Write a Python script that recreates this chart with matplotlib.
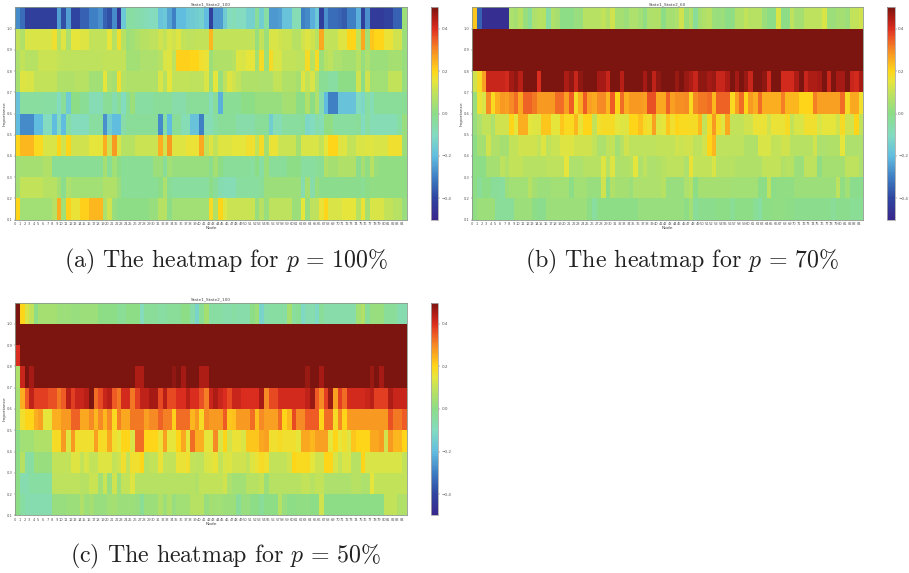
import numpy
import matplotlib
matplotlib.use('Agg')
import matplotlib.pyplot as plt
from matplotlib.colors import LinearSegmentedColormap

FIG_W, FIG_H = 909, 573

# Values, one list per row, top row first
a_row0 = [-.28,-.33,-.42,-.42,-.42,-.42,-.42,-.42,-.42,-.25,
          -.38,-.25,-.4,-.4,-.35,-.35,-.3,-.3,-.27,-.35,
          -.38,-.28,-.45,-.17,-.05,-.05,-.06,-.07,-.08,-.1,
          -.09,-.18,-.17,-.24,-.3,-.2,-.2,-.17,-.16,-.15,
          -.14,-.2,-.42,-.26,-.26,-.16,-.09,-.08,-.1,-.1,
          -.14,-.14,-.03,-.15,-.05,-.26,-.26,-.25,-.18,-.18,
          -.08,-.08,-.3,-.28,-.22,-.17,-.42,-.27,-.33,-.33,
          -.34,-.36,-.3,-.3,-.22,-.42,-.27,-.43,-.43,-.43,
          -.41,-.41,-.35,-.35,.03]
a_row1 = [.1,.07,.13,.13,.13,.13,.13,.13,.17,.08,
          .14,.06,.15,.15,.14,.14,.1,.1,.1,.1,
          .15,.08,.17,.08,.03,.04,.06,.08,.08,.09,
          .09,.12,.1,.13,.12,.14,.1,.09,.09,.1,
          .1,.1,.24,.1,.1,.1,.1,.1,.1,.1,
          .1,.1,.02,.1,.03,.13,.13,.12,.11,.11,
          .08,.08,.12,.14,.12,.08,.26,.1,.1,.1,
          .14,.14,.2,.2,.1,.26,.05,.22,.2,.2,
          .16,.16,.12,.12,.03]
a_row2 = [.06,.1,.08,.08,.08,.11,.11,.11,.11,.1,
          .09,.09,.09,.09,.09,.09,.09,.09,.09,.1,
          .1,.1,.1,.1,.04,.04,.04,.06,.06,.06,
          .06,.08,.13,.14,.09,.21,.21,.21,.2,.2,
          .17,.16,.03,.07,.07,.07,.07,.08,.14,.13,
          .15,.15,.05,.18,.03,.18,.13,.13,.1,.1,
          .1,.09,.09,.18,.08,.18,.03,.08,.09,.06,
          .06,.05,.05,.05,.08,.02,.06,.03,.03,.03,
          .03,.05,.05,.05,.02]
a_row3 = [.05,.14,.13,.13,.1,.1,.1,.1,.1,.07,
          .07,.07,.07,.08,.08,.08,.04,.04,.04,.15,
          .06,.05,.17,.08,.07,.07,.07,.07,.07,.07,
          .07,.13,.08,.15,.1,.1,.1,.1,.09,.09,
          .09,.13,.03,.15,.02,.09,.14,.12,.1,.07,
          .07,.07,.07,.06,.06,.06,.1,.1,.07,.07,
          .07,.05,.14,.1,.13,.06,-.02,-.02,-.05,-.05,
          0,0,0,0,.12,0,.12,.04,.04,.04,
          .04,.1,.1,.1,.02]
a_row4 = [-.18,-.04,-.04,-.04,-.04,-.04,-.05,-.05,-.05,-.1,
          -.03,-.16,0,0,-.02,-.02,-.08,-.08,-.08,-.03,
          -.02,-.07,-.02,-.1,-.02,.03,-.05,-.05,-.05,-.05,
          -.03,-.03,-.03,-.03,-.06,-.06,-.06,-.03,-.03,-.03,
          -.03,-.03,-.09,-.03,-.22,-.02,-.02,-.02,-.02,0,
          0,0,.02,.02,.02,.02,.02,.02,.05,.05,
          .05,0,0,.07,0,.06,-.07,-.2,-.3,-.3,
          -.18,-.18,-.18,-.18,-.1,-.12,-.05,-.08,-.03,-.03,
          -.03,-.03,-.03,-.03,-.02]
a_row5 = [-.2,-.28,-.28,-.28,-.2,-.2,-.1,-.1,-.2,-.1,
          -.2,-.05,-.09,-.09,-.09,-.09,-.04,-.04,-.04,-.27,
          -.15,-.2,-.2,-.06,-.03,-.03,-.03,-.03,-.03,-.03,
          -.03,-.28,-.05,-.2,-.03,-.03,-.08,-.08,-.18,-.18,
          -.3,-.08,-.08,-.05,-.03,-.03,-.03,-.03,-.06,-.06,
          -.06,-.06,-.03,-.03,-.03,-.15,-.08,-.08,-.04,-.04,
          -.04,-.04,-.03,-.12,-.1,-.06,-.08,.01,.01,-.04,
          -.04,-.04,-.04,-.04,-.03,-.1,-.05,-.08,-.08,-.08,
          -.08,-.08,-.08,-.05,.02]
a_row6 = [.2,.24,.24,.24,.19,.19,.13,.13,.13,.2,
          .12,.2,.12,.12,.12,.12,.15,.15,.15,.25,
          .12,.28,.13,.08,.08,.08,.11,.11,.11,.11,
          .11,.25,.12,.28,.14,.14,.14,.16,.16,.16,
          .26,.1,.14,.1,.14,.14,.14,.15,.15,.15,
          .17,.17,.1,.18,.05,.16,.16,.11,.11,.11,
          .11,.05,.13,.13,.13,.13,.1,.15,.2,.2,
          .14,.14,.1,.1,.13,.13,.14,.14,.13,.13,
          .13,.17,.17,.17,.03]
a_row7 = [.04,.05,.05,.05,.05,.05,.07,.07,-.02,-.02,
          -.02,-.02,-.02,-.02,-.02,-.02,-.02,-.02,-.02,.05,
          -.02,.04,0,-.02,-.02,-.02,-.02,-.02,-.02,-.02,
          .03,.03,-.03,.04,.02,.02,.02,.02,.02,.02,
          .02,.02,-.01,.05,0,-.03,-.03,-.03,-.03,-.03,
          -.03,-.04,0,-.05,.03,-.03,-.03,-.03,-.03,0,
          0,0,-.04,-.04,-.04,-.03,-.02,.07,.05,.05,
          .07,.07,.07,.07,-.01,.05,.01,.08,.02,.01,
          .01,.01,.01,.01,.01]
a_row8 = [.05,.1,.1,.1,.1,.1,.08,.08,.08,.05,
          -.01,.06,.04,.04,.04,.04,.04,.04,.04,.07,
          .07,.07,.03,-.02,-.02,-.02,-.02,-.02,-.02,-.02,
          -.02,0,.06,-.02,-.04,-.04,-.04,-.04,-.04,-.04,
          -.04,-.04,0,-.03,-.07,-.08,-.08,-.08,-.04,-.04,
          -.04,-.04,-.04,-.03,.03,.03,.03,.03,.03,.03,
          .03,.03,-.07,.05,-.06,.02,-.01,-.01,-.01,-.01,
          -.01,-.01,-.01,-.01,-.01,-.02,0,.01,.01,.01,
          .01,.01,.01,.01,.01]
a_row9 = [.2,.04,.04,.04,.04,.04,.04,.04,.08,.25,
          .04,.21,.16,.16,.21,.21,.24,.24,.24,.06,
          .12,.02,0,0,0,0,0,0,0,.02,
          .02,.08,.08,0,.04,.04,.04,.04,.04,.04,
          .04,.04,.18,.07,.2,.14,.11,.11,.11,.11,
          .11,.11,.02,.08,.02,.09,.09,.09,.09,.09,
          .03,.03,.15,.02,.09,.09,.16,.2,.13,.13,
          .13,.15,.15,.15,.08,.16,.05,.13,.13,.13,
          .1,.1,.08,.08,.02]

# Rows that hit the top of the colour scale in panels b and c
saturated_row = [.5,.5,.5,.5,.5,.5,.5,.5,.5,.5,
                 .5,.5,.5,.5,.5,.5,.5,.5,.5,.5,
                 .5,.5,.5,.5,.5,.5,.5,.5,.5,.5,
                 .5,.5,.5,.5,.5,.5,.5,.5,.5,.5,
                 .5,.5,.5,.5,.5,.5,.5,.5,.5,.5,
                 .5,.5,.5,.5,.5,.5,.5,.5,.5,.5,
                 .5,.5,.5,.5,.5,.5,.5,.5,.5,.5,
                 .5,.5,.5,.5,.5,.5,.5,.5,.5,.5,
                 .5,.5,.5,.5,.5]

b_row0 = [.22,-.35,-.47,-.47,-.47,-.47,-.47,-.47,.06,.05,
          .08,.02,-.02,.06,.08,.08,-.05,.07,.05,0,
          0,0,.02,.02,.08,.08,.08,.08,.1,.07,
          .12,.05,.05,.03,.06,.06,.04,.01,.06,.07,
          .07,0,.05,.05,.06,.12,.03,.07,-.03,.05,
          .07,.08,.03,.02,.03,0,.01,.07,.07,.1,
          .08,.08,.08,.03,0,0,.13,0,0,.09,
          .05,.05,.09,.09,.09,.09,.13,.03,.03,.05,
          .05,.03,.1,.1,.12]
b_row3 = [.12,.18,.27,.42,.42,.42,.42,.41,.46,.48,
          .44,.5,.5,.5,.4,.5,.5,.5,.5,.5,
          .45,.48,.42,.48,.5,.5,.5,.46,.46,.42,
          .5,.5,.44,.5,.5,.5,.5,.46,.5,.43,
          .48,.5,.5,.5,.47,.5,.47,.45,.42,.48,
          .48,.46,.47,.42,.42,.45,.5,.46,.5,.47,
          .42,.5,.5,.48,.41,.5,.5,.41,.41,.41,
          .45,.5,.42,.45,.45,.46,.5,.42,.5,.46,
          .46,.5,.42,.41,.46]
b_row4 = [.02,.16,.13,.3,.19,.25,.28,.27,.3,.33,
          .26,.34,.34,.32,.28,.28,.28,.28,.33,.33,
          .27,.35,.18,.25,.35,.27,.26,.3,.3,.24,
          .35,.2,.33,.25,.28,.28,.28,.27,.36,.36,
          .26,.26,.34,.27,.29,.29,.3,.19,.3,.32,
          .32,.33,.24,.34,.34,.34,.19,.27,.33,.2,
          .28,.25,.33,.25,.25,.25,.25,.31,.24,.24,
          .24,.2,.2,.2,.31,.27,.27,.27,.27,.27,
          .33,.18,.26,.26,.17]
b_row5 = [.02,.06,.1,.1,.06,.12,.12,.12,.2,.15,
          .25,.25,.15,.14,.14,.22,.22,.15,.15,.22,
          .19,.19,.24,.16,.2,.2,.1,.17,.18,.18,
          .18,.15,.14,.14,.2,.2,.23,.18,.17,.27,
          .14,.15,.22,.17,.2,.19,.19,.18,.18,.24,
          .1,.18,.28,.18,.14,.26,.1,.1,.1,.12,
          .12,.16,.16,.16,.12,.16,.16,.16,.18,.1,
          .13,.13,.17,.17,.17,.13,.15,.15,.15,.12,
          .18,.12,.12,.2,.1]
b_row6 = [0,.05,.05,.12,.07,.07,.05,.05,.1,.1,
          .12,.12,.12,.12,.1,.14,.09,.11,.11,.14,
          .14,.14,.12,.12,.12,.12,.1,.06,.06,.09,
          .1,.04,.08,.12,.09,.09,.09,.09,.09,.09,
          .1,.1,.1,.1,.12,.11,.12,.12,.09,.09,
          .12,.2,.24,.09,.09,.09,.09,.09,.09,.07,
          .07,.07,.13,.13,.13,.1,.1,.12,.12,.08,
          .08,.08,.08,.08,.12,.06,.06,.07,.07,.07,
          .15,.06,.06,.06,.06]
b_row7 = [0,0,0,.05,.05,.05,.09,.07,.1,.1,
          .1,.08,.08,.08,.08,.08,.09,.09,.09,.09,
          .15,.06,.06,.06,.08,.08,.08,.08,.14,.08,
          .14,.06,.07,.07,.08,.15,.06,.09,.06,.06,
          .07,.08,.09,.09,.09,.09,.06,.16,.1,.1,
          .1,.1,.13,.08,.08,.08,.08,.07,.07,.07,
          .07,.07,.07,.1,.1,.1,.1,.07,.08,.08,
          .03,.03,.09,.09,.09,.01,.05,.05,.05,.05,
          .05,.09,.09,.09,.06]
b_row8 = [0,-.03,0,0,-.03,-.03,-.04,.03,.04,.04,
          .04,.04,.08,.05,.03,.03,.03,.04,.04,.04,
          .04,0,.04,.04,.04,.02,.02,.02,.12,0,
          .07,.05,.05,.05,.03,.06,.06,.06,.06,.06,
          .06,.08,.02,.02,.02,.02,.06,.08,0,.05,
          .05,.05,.05,.05,.05,.05,.04,.04,.04,.04,
          .04,.04,0,0,.09,0,.01,.01,.01,.01,
          .03,.03,.03,.03,.03,.03,.03,.03,.03,.09,
          .01,.04,-.01,-.01,-.01]
b_row9 = [.01,.03,.03,.03,.03,-.03,-.03,-.03,-.03,.03,
          .03,.03,.03,0,-.01,-.01,.03,.03,.03,.03,
          .03,.03,.03,.03,.03,0,-.04,0,0,0,
          0,0,0,0,0,0,.02,.02,.02,.02,
          .02,.02,.02,.02,.02,.02,0,.04,-.03,-.01,
          -.01,-.01,-.01,0,0,0,-.02,0,0,0,
          0,-.02,-.05,0,0,.01,.01,.01,0,0,
          -.01,-.01,-.01,-.01,-.01,-.01,-.01,-.01,-.03,-.01,
          -.01,-.01,-.02,-.02,-.02]

c_row0 = [.5,.2,.13,.1,0,.05,.05,.05,.05,.03,
          .03,.03,.02,.02,.03,.03,.03,.03,0,0,
          0,0,-.02,-.02,0,0,0,-.09,-.03,-.03,
          -.03,-.05,-.05,-.03,-.03,-.03,0,0,-.06,-.13,
          -.02,.05,-.05,-.05,-.05,-.06,-.06,-.05,-.06,-.06,
          -.06,0,.03,-.13,-.06,-.05,-.05,-.05,-.05,.05,
          -.04,-.02,-.11,-.07,-.07,-.11,-.03,-.06,-.06,-.06,
          -.06,-.06,-.06,-.06,.04,.07,-.03,.02,.02,.02,
          -.03,-.03,-.03,-.07,-.07]
c_row2 = [.4,.5,.5,.5,.5,.5,.5,.5,.5,.5,
          .5,.5,.5,.5,.5,.5,.5,.5,.5,.5,
          .5,.5,.5,.5,.5,.5,.5,.5,.5,.5,
          .5,.5,.5,.5,.5,.5,.5,.5,.5,.5,
          .5,.5,.5,.5,.5,.5,.5,.5,.5,.5,
          .5,.5,.5,.5,.5,.5,.5,.5,.5,.5,
          .5,.5,.5,.5,.5,.5,.5,.5,.5,.5,
          .5,.5,.5,.5,.5,.5,.5,.5,.5,.5,
          .5,.5,.5,.5,.5]
c_row3 = [.06,.42,.5,.46,.5,.5,.5,.5,.5,.5,
          .5,.5,.5,.5,.5,.5,.5,.5,.5,.5,
          .5,.5,.5,.5,.5,.5,.45,.45,.5,.5,
          .5,.5,.5,.5,.48,.5,.46,.5,.5,.5,
          .45,.45,.5,.5,.5,.5,.5,.5,.5,.5,
          .5,.5,.5,.5,.5,.5,.5,.5,.5,.5,
          .5,.5,.5,.47,.5,.5,.46,.5,.5,.5,
          .5,.5,.5,.5,.5,.5,.5,.47,.5,.46,
          .5,.5,.5,.5,.5]
c_row4 = [.05,.25,.35,.43,.38,.38,.38,.36,.36,.32,
          .35,.44,.38,.42,.42,.44,.5,.33,.37,.42,
          .44,.35,.32,.41,.41,.32,.38,.43,.43,.46,
          .46,.37,.44,.37,.37,.4,.4,.44,.4,.4,
          .36,.31,.42,.45,.42,.4,.37,.42,.42,.4,
          .4,.4,.4,.46,.3,.37,.37,.41,.41,.41,
          .41,.41,.41,.43,.47,.35,.3,.38,.47,.27,
          .38,.33,.41,.41,.41,.41,.42,.44,.38,.38,
          .38,.45,.42,.42,.42]
c_row5 = [.05,.17,.2,.2,.25,.27,.15,.15,.25,.25,
          .28,.28,.34,.34,.26,.26,.3,.24,.3,.24,
          .3,.19,.31,.26,.26,.32,.32,.32,.27,.3,
          .3,.34,.31,.31,.21,.33,.33,.33,.24,.28,
          .18,.3,.28,.28,.28,.35,.22,.23,.28,.28,
          .28,.33,.23,.3,.27,.27,.27,.33,.2,.24,
          .37,.3,.3,.35,.35,.35,.2,.33,.33,.18,
          .3,.2,.28,.28,.28,.28,.28,.28,.28,.28,
          .28,.36,.32,.32,.35]
c_row6 = [0,.04,.04,.04,.07,.07,.07,.07,.18,.18,
          .28,.14,.28,.17,.17,.17,.17,.27,.18,.18,
          .26,.17,.15,.2,.2,.13,.33,.33,.2,.2,
          .2,.16,.27,.15,.15,.2,.26,.15,.33,.25,
          .25,.15,.15,.3,.13,.2,.12,.16,.16,.13,
          .22,.22,.22,.26,.27,.17,.17,.18,.17,.17,
          .17,.15,.26,.26,.24,.27,.27,.27,.15,.2,
          .15,.17,.14,.22,.2,.2,.2,.26,.26,.28,
          .12,.28,.24,.24,.2]
c_row7 = [0,.08,-.05,-.05,.03,.02,.02,.02,.1,.1,
          .1,.1,.14,.14,.1,.13,.1,.1,.14,.14,
          .14,.1,.12,.17,.1,.17,.17,.2,.08,.1,
          .1,.16,.1,.1,.1,.16,.16,.17,.1,.09,
          .09,.13,.14,.16,.1,.13,.14,.12,.12,.12,
          .1,.14,.16,.18,.17,.1,.1,.1,.1,.12,
          .2,.19,.19,.19,.15,.12,.12,.2,.2,.13,
          .1,.13,.13,.08,.08,.2,.13,.13,.13,.13,
          .13,.13,.13,.13,.1]
c_row8 = [0,-.07,-.07,-.05,-.05,-.05,-.05,-.05,.09,.09,
          .09,.09,.09,.09,.08,.08,.11,.11,.04,.11,
          .02,.12,.03,.1,.1,.14,.08,.08,.08,.08,
          .08,.08,.08,.08,.08,.08,.08,.08,.08,.07,
          .1,.1,.1,.1,.1,.12,.06,.04,.04,.04,
          .08,.08,.08,.1,.03,.08,.08,.08,.08,.08,
          .08,.08,.1,.1,.08,.1,.1,.06,.06,.06,
          .06,.06,.06,.08,.08,.06,.06,.15,.1,.1,
          .1,.1,.1,.1,.1]
c_row9 = [0,-.05,-.07,-.07,-.07,-.07,-.07,-.07,.02,.02,
          .02,.03,.03,.03,.07,.03,.05,.02,.02,.02,
          .04,.05,.03,.03,.03,.03,.02,-.02,.03,.03,
          .03,.07,.03,.07,.02,.04,.04,.04,.08,.08,
          .08,.02,.05,.04,.04,.03,.03,.03,-.03,.02,
          .02,0,0,-.03,0,0,0,.08,.02,0,
          0,.01,.01,.01,0,0,.12,0,0,0,
          0,0,0,0,0,0,0,0,0,0,
          .1,.1,.1,.07,.07]

importance_ticks = [0.1, 0.2, 0.3, 0.4, 0.5, 0.6, 0.7, 0.8, 0.9, 1.0]
importance_edges = [0.1, 0.2, 0.3, 0.4, 0.5, 0.6, 0.7, 0.8, 0.9, 1.0, 1.1]
colorbar_ticks = [-0.4, -0.2, 0.0, 0.2, 0.4]

# Colour ramp picked off the colour bars
cmap = LinearSegmentedColormap.from_list('heat', [
    (0.00, '#38278c'), (0.10, '#2f45a0'), (0.20, '#3f7fc4'), (0.30, '#62bee0'),
    (0.40, '#83dcc0'), (0.50, '#8cdd88'), (0.60, '#c2e25a'), (0.65, '#e6e53c'),
    (0.70, '#ffd61a'), (0.75, '#fbb01f'), (0.80, '#f68a24'), (0.85, '#ee5c25'),
    (0.90, '#dc2e20'), (0.95, '#b01c15'), (1.00, '#7c1510')])

plt.rcParams['mathtext.fontset'] = 'cm'


def pixel_rect(left, top, right, bottom):
    # Axes rectangle from pixel positions in the image
    return [left / FIG_W, 1 - bottom / FIG_H, (right - left) / FIG_W, (bottom - top) / FIG_H]


def draw_panel(fig, rows, title, left, right, top, bottom, bar_left, bar_right):
    ax = fig.add_axes(pixel_rect(left, top, right, bottom))
    values = numpy.array(rows[::-1])
    nodes = numpy.arange(values.shape[1] + 1)
    mesh = ax.pcolormesh(nodes, importance_edges, values, cmap=cmap, vmin=-0.5, vmax=0.5)

    ax.set_xticks(nodes[:-1])
    ax.set_xticklabels([str(n) for n in nodes[:-1]])
    ax.set_yticks(importance_ticks)
    ax.tick_params(labelsize=2.6, length=1, width=0.3, pad=1, colors='#555555')
    ax.set_title(title, fontsize=3.1, pad=1.5, color='#444444')
    ax.set_xlabel('Node', fontsize=3.2, labelpad=0, color='#444444')
    ax.set_ylabel('Importance', fontsize=3.2, labelpad=0, color='#444444')
    for spine in ax.spines.values():
        spine.set_linewidth(0.6)
        spine.set_color('#8a9a8a')

    cax = fig.add_axes(pixel_rect(bar_left, top, bar_right, bottom))
    bar = fig.colorbar(mesh, cax=cax)
    bar.set_ticks(colorbar_ticks)
    bar.ax.tick_params(labelsize=3, length=1.5, width=0.3, pad=1, colors='#555555')
    bar.outline.set_linewidth(0.6)
    bar.outline.set_edgecolor('#aaaaaa')


def main():
    fig = plt.figure(figsize=(FIG_W / 100, FIG_H / 100), dpi=100)

    panel_a = [a_row0, a_row1, a_row2, a_row3, a_row4, a_row5, a_row6, a_row7, a_row8, a_row9]
    panel_b = [b_row0, saturated_row, saturated_row, b_row3, b_row4, b_row5, b_row6, b_row7, b_row8, b_row9]
    panel_c = [c_row0, saturated_row, c_row2, c_row3, c_row4, c_row5, c_row6, c_row7, c_row8, c_row9]

    draw_panel(fig, panel_a, 'State1_State2_100', 15.3, 406.7, 7.3, 219.7, 430.7, 438)
    draw_panel(fig, panel_b, 'State1_State2_60', 472.3, 863.3, 7.3, 219.7, 887.3, 894.7)
    draw_panel(fig, panel_c, 'State1_State2_100', 15.3, 406.7, 302.7, 515.3, 430.7, 438)

    # Sub-figure captions
    caption_font = dict(fontsize=17.2, family='cmr10', ha='center', va='center', color='#222222')
    fig.text(226 / FIG_W, 1 - 261 / FIG_H, r'(a) The heatmap for $p\,=\,100\%$', **caption_font)
    fig.text(682 / FIG_W, 1 - 261 / FIG_H, r'(b) The heatmap for $p\,=\,70\%$', **caption_font)
    fig.text(226 / FIG_W, 1 - 556 / FIG_H, r'(c) The heatmap for $p\,=\,50\%$', **caption_font)

    fig.savefig('out.png', dpi=100)


if __name__ == '__main__':
    main()
